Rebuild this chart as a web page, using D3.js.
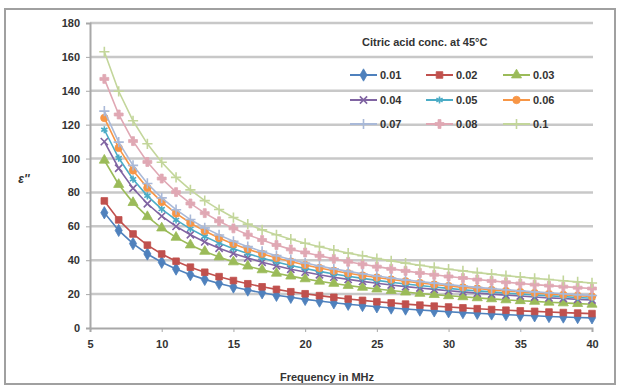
<!DOCTYPE html>
<html>
<head>
<meta charset="utf-8">
<script src="https://cdn.jsdelivr.net/npm/d3@7"></script>
<style>
  body { margin: 0; background: #fff; }
  svg { font-family: Arial, "Liberation Sans", sans-serif; }
</style>
</head>
<body>
<svg width="622" height="387"></svg>
<script>
var svg = d3.select("svg");

// Data
var freq = d3.range(6, 41); // 6..40 MHz
var concs = ["0.01", "0.02", "0.03", "0.04", "0.05", "0.06", "0.07", "0.08", "0.1"];
var s001 = [68,57.6,49.8,43.7,38.8,34.8,31.5,28.7,26.3,24.2,22.4,20.8,19.3,18.1,16.9,15.9,14.9,14,13.3,12.5,11.8,11.2,10.6,10.1,9.6,9.1,8.7,8.3,7.9,7.5,7.2,6.8,6.5,6.2,6];
var s002 = [75,63.8,55.5,48.9,43.7,39.4,35.9,32.9,30.3,28,26.1,24.3,22.8,21.4,20.2,19.1,18.1,17.1,16.3,15.5,14.8,14.1,13.5,12.9,12.4,11.9,11.4,10.9,10.5,10.1,9.8,9.4,9.1,8.8,8.5];
var s003 = [99,84.7,74,65.7,59,53.5,49,45.2,41.9,39,36.5,34.3,32.3,30.6,29,27.6,26.3,25.1,24,23,22.1,21.2,20.4,19.7,19,18.4,17.8,17.2,16.6,16.1,15.7,15.2,14.8,14.4,14];
var s004 = [110,94.3,82.5,73.3,66,60,55,50.8,47.1,44,41.3,38.8,36.7,34.7,33,31.4,30,28.7,27.5,26.4,25.4,24.4,23.6,22.8,22,21.3,20.6,20,19.4,18.9,18.3,17.8,17.4,16.9,16.5];
var s005 = [117,100.3,87.8,78,70.2,63.8,58.5,54,50.1,46.8,43.9,41.3,39,36.9,35.1,33.4,31.9,30.5,29.3,28.1,27,26,25.1,24.2,23.4,22.6,21.9,21.3,20.6,20.1,19.5,19,18.5,18,17.6];
var s006 = [124,106.3,93,82.7,74.4,67.6,62,57.2,53.1,49.6,46.5,43.8,41.3,39.2,37.2,35.4,33.8,32.3,31,29.8,28.6,27.6,26.6,25.7,24.8,24,23.3,22.5,21.9,21.3,20.7,20.1,19.6,19.1,18.6];
var s007 = [128,109.7,96,85.3,76.8,69.8,64,59.1,54.9,51.2,48,45.2,42.7,40.4,38.4,36.6,34.9,33.4,32,30.7,29.5,28.4,27.4,26.5,25.6,24.8,24,23.3,22.6,21.9,21.3,20.8,20.2,19.7,19.2];
var s008 = [147,126,110.3,98,88.2,80.2,73.5,67.8,63,58.8,55.1,51.9,49,46.4,44.6,42.6,40.8,39.1,37.6,36.2,34.9,33.7,32.5,31.4,30.4,29.5,28.6,27.8,27,26.3,25.6,25,24.4,23.8,23.3];
var s010 = [163,139.7,122.3,108.7,97.8,88.9,81.5,75.2,69.9,65.2,61.3,57.9,55,52.4,50,48,46,44.2,42.6,41,39.6,38.3,37,35.8,34.7,33.7,32.7,31.8,30.9,30.1,29.3,28.6,27.9,27.2,26.6];
var xTicks = [5, 10, 15, 20, 25, 30, 35, 40];
var yTicks = [0, 20, 40, 60, 80, 100, 120, 140, 160, 180];

var allSeries = [s001, s002, s003, s004, s005, s006, s007, s008, s010];
var colors = ["#4F81BD", "#C0504D", "#9BBB59", "#8064A2", "#4BACC6", "#F79646", "#A9B9D8", "#E0A8B4", "#C3D69B"];
var shapes = [d3.symbolDiamond, d3.symbolSquare, d3.symbolTriangle, d3.symbolTimes, d3.symbolAsterisk, d3.symbolCircle, d3.symbolPlus, d3.symbolCross, d3.symbolPlus];
var stroked = [false, false, false, true, true, false, true, false, true];

// Frame
svg.append("rect")
  .attr("x", 5).attr("y", 9).attr("width", 610).attr("height", 375)
  .attr("fill", "#fff").attr("stroke", "#a0a0a0").attr("stroke-width", 2);

// Scales
var x = d3.scaleLinear().domain([5, 40]).range([90, 592]);
var y = d3.scaleLinear().domain([0, 180]).range([328, 23]);

// Gridlines
svg.append("g")
  .selectAll("line")
  .data(yTicks.slice(1))
  .enter()
  .append("line")
  .attr("x1", 90).attr("x2", 593)
  .attr("y1", function (d) { return y(d); })
  .attr("y2", function (d) { return y(d); })
  .attr("stroke", "#c8c8c8")
  .attr("stroke-width", 2.5);

// Axes
var xAxis = svg.append("g")
  .attr("transform", "translate(0," + y(0) + ")")
  .call(d3.axisBottom(x).tickValues(xTicks).tickSize(4).tickPadding(8));
var yAxis = svg.append("g")
  .attr("transform", "translate(" + x(5) + ",0)")
  .call(d3.axisLeft(y).tickValues(yTicks).tickSize(4).tickPadding(6));
[xAxis, yAxis].forEach(function (g) {
  g.select(".domain").attr("stroke", "#a8a8a8").attr("stroke-width", 2);
  g.selectAll(".tick line").attr("stroke", "#a8a8a8");
  g.selectAll("text")
    .attr("fill", "#333")
    .style("font-size", "11px")
    .style("font-weight", "bold")
    .style("font-family", "Arial, 'Liberation Sans', sans-serif");
});

// Axis titles
svg.append("text")
  .attr("x", 327).attr("y", 381)
  .attr("text-anchor", "middle")
  .attr("fill", "#333")
  .style("font-size", "11px")
  .style("font-weight", "bold")
  .text("Frequency  in MHz");
svg.append("text")
  .attr("x", 24).attr("y", 183)
  .attr("text-anchor", "middle")
  .attr("fill", "#333")
  .style("font-size", "12px")
  .style("font-weight", "bold")
  .style("font-style", "italic")
  .text("ε''");

// Series
var line = d3.line()
  .x(function (d) { return x(d[0]); })
  .y(function (d) { return y(d[1]); });

allSeries.forEach(function (vals, i) {
  var pts = freq.map(function (f, j) { return [f, vals[j]]; });
  var g = svg.append("g");
  g.append("path")
    .datum(pts)
    .attr("d", line)
    .attr("fill", "none")
    .attr("stroke", colors[i])
    .attr("stroke-width", 1.6);
  g.selectAll("path.m")
    .data(pts)
    .enter()
    .append("path")
    .attr("class", "m")
    .attr("transform", function (d) { return "translate(" + x(d[0]) + "," + y(d[1]) + ")"; })
    .attr("d", d3.symbol().type(shapes[i]).size(stroked[i] ? 36 : 44))
    .attr("fill", stroked[i] ? "none" : colors[i])
    .attr("stroke", colors[i])
    .attr("stroke-width", stroked[i] ? 1.6 : 0.8);
});

// Legend
svg.append("text")
  .attr("x", 362).attr("y", 46)
  .attr("fill", "#333")
  .style("font-size", "11px")
  .style("font-weight", "bold")
  .text("Citric acid conc. at 45°C");

var colX = [350, 426, 503];
var rowY = [75, 100, 124];
concs.forEach(function (c, i) {
  var lx = colX[i % 3], ly = rowY[Math.floor(i / 3)];
  var g = svg.append("g");
  g.append("line")
    .attr("x1", lx).attr("x2", lx + 27)
    .attr("y1", ly).attr("y2", ly)
    .attr("stroke", colors[i]).attr("stroke-width", 2);
  g.append("path")
    .attr("transform", "translate(" + (lx + 13.5) + "," + ly + ")")
    .attr("d", d3.symbol().type(shapes[i]).size(stroked[i] ? 36 : 44))
    .attr("fill", stroked[i] ? "none" : colors[i])
    .attr("stroke", colors[i])
    .attr("stroke-width", stroked[i] ? 1.6 : 0.8);
  g.append("text")
    .attr("x", lx + 30).attr("y", ly + 4)
    .attr("fill", "#333")
    .style("font-size", "11px")
    .style("font-weight", "bold")
    .text(c);
});
</script>
</body>
</html>
